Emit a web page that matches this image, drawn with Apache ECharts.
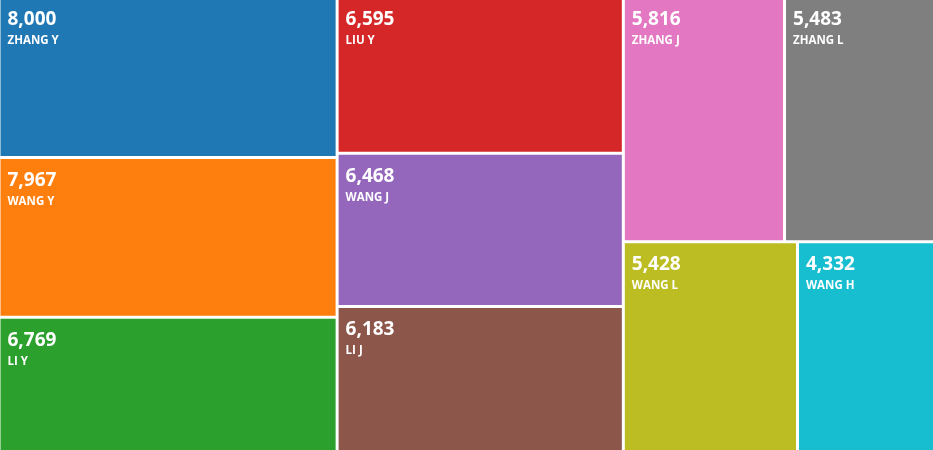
<!DOCTYPE html>
<html><head><meta charset="utf-8">
<script src="https://cdn.jsdelivr.net/npm/echarts@6/dist/echarts.min.js"></script>
<style>html,body{margin:0;padding:0;background:#fff}#c{width:933px;height:450px}</style>
</head><body><div id="c"></div>
<script>
const names = ["ZHANG Y","WANG Y","LI Y","LIU Y","WANG J","LI J","ZHANG J","ZHANG L","WANG L","WANG H"];
const values = [8000,7967,6769,6595,6468,6183,5816,5483,5428,4332];
const colors = ["#1f77b4","#ff7f0e","#2ca02c","#d62728","#9467bd","#8c564b","#e377c2","#7f7f7f","#bcbd22","#17becf"];

const data = names.map((n,i)=>({name:n,value:values[i],itemStyle:{color:colors[i]}}));
const chart = echarts.init(document.getElementById('c'));
chart.setOption({
  animation:false,
  series:[{
    type:'treemap',
    left:0.5, top:-1.5, right:-2, bottom:-1.5,
    roam:false, nodeClick:false,
    breadcrumb:{show:false},
    squareRatio:0.5*(1+Math.sqrt(5)),
    levels:[{itemStyle:{gapWidth:3,borderWidth:0}}],
    itemStyle:{borderWidth:0},
    label:{
      show:true, position:'insideTopLeft', padding:[9,0,0,7],
      fontFamily:'Open Sans',
      formatter:p=>'{v|'+p.value.toLocaleString('en-US')+'}\n{n|'+p.name+'}',
      rich:{
        v:{fontSize:19,fontWeight:'bold',color:'#fff',fontFamily:'Open Sans',lineHeight:25},
        n:{fontSize:11.5,fontWeight:'bold',color:'#fff',fontFamily:'Open Sans',lineHeight:17}
      }
    },
    data:data
  }]
});
</script></body></html>
